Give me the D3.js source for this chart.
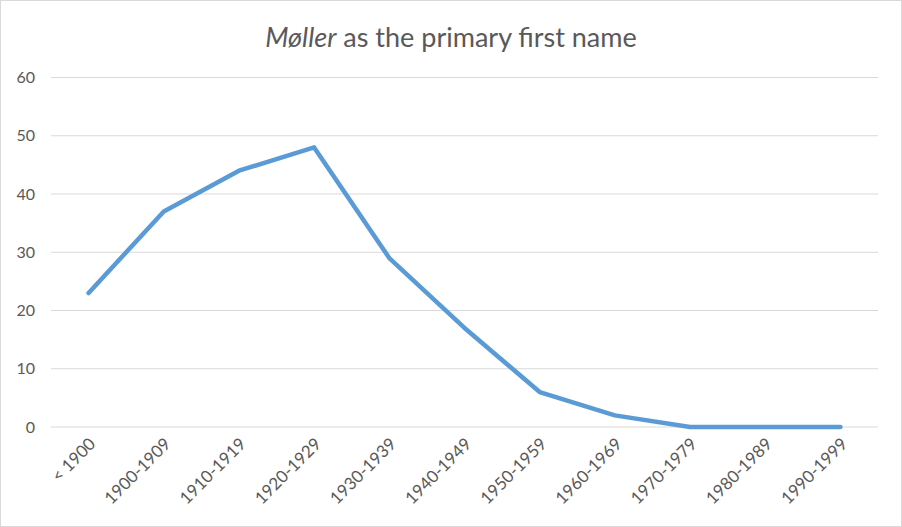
<!DOCTYPE html>
<html><head><meta charset="utf-8">
<script src="https://cdn.jsdelivr.net/npm/d3@7"></script>
<style>
body{margin:0;background:#fff;}
svg{display:block;font-family:Lato,"Open Sans",sans-serif;}
</style></head>
<body><svg id="c" width="902" height="527"></svg>
<script>
const categories = ["< 1900","1900-1909","1910-1919","1920-1929","1930-1939","1940-1949","1950-1959","1960-1969","1970-1979","1980-1989","1990-1999"];
const values = [23,37,44,48,29,17,6,2,0,0,0];
const yTicks = [0,10,20,30,40,50,60];

const svg = d3.select("#c");
const W = 902, H = 527;
const m = {left:51, right:24, top:77.5, bottom:100};

svg.append("rect").attr("x",0.5).attr("y",0.5).attr("width",W-1).attr("height",H-1)
  .attr("fill","#fff").attr("stroke","#d9d9d9");

const x = d3.scaleBand().domain(categories).range([m.left, W-m.right]);
const y = d3.scaleLinear().domain([0,60]).range([H-m.bottom, m.top]);

// gridlines
svg.append("g").selectAll("line").data(yTicks).join("line")
  .attr("x1",m.left).attr("x2",W-m.right)
  .attr("y1",d=>y(d)).attr("y2",d=>y(d))
  .attr("stroke","#d9d9d9").attr("stroke-width",1);

// y axis labels
const yAxis = d3.axisLeft(y).tickValues(yTicks).tickSize(0).tickPadding(16);
const gy = svg.append("g").attr("transform",`translate(${m.left},0)`).call(yAxis);
gy.select(".domain").remove();
gy.selectAll("text").attr("fill","#595959").style("font-size","16px").style("font-family","Lato,sans-serif");

// x axis labels
const xAxis = d3.axisBottom(x).tickSize(0).tickPadding(0);
const gx = svg.append("g").attr("transform",`translate(0,${y(0)})`).call(xAxis);
gx.select(".domain").remove();
gx.selectAll("text").attr("fill","#595959").style("font-size","17px").style("font-family","Lato,sans-serif")
  .attr("text-anchor","end").attr("dy",0).attr("y",0)
  .attr("transform","translate(8,18) rotate(-45)");

// line
const line = d3.line().x((d,i)=>x(categories[i])+x.bandwidth()/2).y(d=>y(d));
svg.append("path").datum(values).attr("d",line)
  .attr("fill","none").attr("stroke","#5b9bd5").attr("stroke-width",4.5)
  .attr("stroke-linejoin","round").attr("stroke-linecap","round");

// title
const t = svg.append("text").attr("x",451).attr("y",47).attr("text-anchor","middle")
  .attr("fill","#595959").style("font-size","27px");
t.append("tspan").attr("font-style","italic").text("Møller");
t.append("tspan").text(" as the primary first name");
</script></body></html>
